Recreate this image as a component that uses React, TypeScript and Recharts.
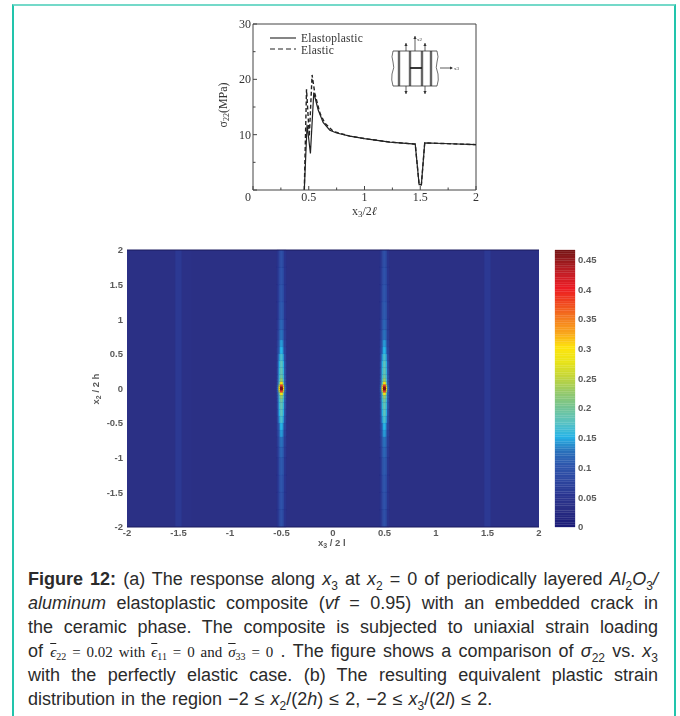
import {
  ComposedChart,
  LineChart,
  Line,
  Scatter,
  Legend,
  XAxis,
  YAxis,
  Label,
  ReferenceArea,
  ReferenceLine,
} from "recharts";

const SERIF = "'Liberation Serif', serif";
const SANS = "'Liberation Sans', Arial, sans-serif";

// Response curves
const plasticX = [0.46, 0.485, 0.515, 0.545, 0.584, 0.629, 0.689, 0.75, 0.868, 1.0, 1.227, 1.455, 1.49, 1.51, 1.54, 1.706, 2.0];
const plasticY = [0, 11.8, 6.6, 17.6, 14.5, 12.2, 10.8, 10.3, 9.74, 9.3, 8.66, 8.3, 0.96, 0.96, 8.5, 8.4, 8.2];
const elasticX = [0.46, 0.48, 0.505, 0.53, 0.554, 0.6, 0.644, 0.72, 0.868, 1.0, 1.227, 1.455, 1.49, 1.51, 1.54, 1.706, 2.0];
const elasticY = [0, 18.2, 9.7, 20.8, 17.5, 13.9, 12.1, 10.6, 9.74, 9.3, 8.66, 8.3, 0.96, 0.96, 8.5, 8.4, 8.2];

const lineXTicks = [0, 0.25, 0.5, 0.75, 1, 1.25, 1.5, 1.75, 2];
const lineYTicks = [0, 5, 10, 15, 20, 25, 30];

// Plastic strain map, panel (b). Rows are |x2/2h| upper edges, the map is mirrored about 0
const rowEdges = [0.03, 0.06, 0.1, 0.15, 0.2, 0.3, 0.4, 0.5, 0.6, 0.7, 0.85, 1, 1.25, 1.5, 1.75, 2];
const coreStrain = [0.46, 0.38, 0.29, 0.22, 0.19, 0.18, 0.175, 0.165, 0.15, 0.14, 0.125, 0.115, 0.105, 0.1, 0.095, 0.09];
const innerStrain = [0.3, 0.24, 0.18, 0.165, 0.16, 0.155, 0.15, 0.14, 0.125, 0.115, 0.105, 0.1, 0.09, 0.085, 0.08, 0.075];
const outerStrain = [0.12, 0.11, 0.1, 0.095, 0.09, 0.085, 0.08, 0.075, 0.07, 0.065, 0.06, 0.055, 0.05, 0.05, 0.048, 0.045];
const backgroundStrain = 0.03;
const faintStrain = 0.055;
const faintEdgeStrain = 0.034;

const crackColumns = [-0.5, 0.5];
const faintColumns = [-1.5, 1.5];
const hotSpots = [
  { x: -0.5, y: 0 },
  { x: 0.5, y: 0 },
];
const mapTicks = [-2, -1.5, -1, -0.5, 0, 0.5, 1, 1.5, 2];
const barTicks = [0, 0.05, 0.1, 0.15, 0.2, 0.25, 0.3, 0.35, 0.4, 0.45];
const barRange = [
  { x: 0, y: 0 },
  { x: 1, y: 0.466 },
];

const cmapValues = [0, 0.03, 0.05, 0.08, 0.1, 0.125, 0.15, 0.175, 0.2, 0.225, 0.25, 0.275, 0.3, 0.325, 0.35, 0.375, 0.4, 0.425, 0.45, 0.47];
const cmapColors = ["#1c1c78", "#2b3085", "#2b3590", "#2e4aa2", "#2f55ac", "#2a70bb", "#27b4e6", "#5cc3c0", "#75c493", "#96ca6a", "#c2d53c", "#e8e41a", "#fde40c", "#f9a61c", "#f47a20", "#f0481f", "#ed1c24", "#c41e26", "#8f1a1c", "#6b1010"];

const toRgb = (hex: string) => [1, 3, 5].map((i) => parseInt(hex.slice(i, i + 2), 16));

function strainColor(v: number) {
  let i = 0;
  while (i < cmapValues.length - 2 && v > cmapValues[i + 1]) i++;
  const t = Math.min(1, Math.max(0, (v - cmapValues[i]) / (cmapValues[i + 1] - cmapValues[i])));
  const a = toRgb(cmapColors[i]);
  const b = toRgb(cmapColors[i + 1]);
  return `rgb(${a.map((c, k) => Math.round(c + (b[k] - c) * t)).join(",")})`;
}

interface Cell {
  x1: number;
  x2: number;
  y1: number;
  y2: number;
  value: number;
}

function buildCells() {
  const cells: Cell[] = [];
  const addColumn = (x1: number, x2: number, values: number[]) => {
    rowEdges.forEach((edge, i) => {
      const low = i === 0 ? 0 : rowEdges[i - 1];
      cells.push({ x1, x2, y1: low, y2: edge, value: values[i] });
      cells.push({ x1, x2, y1: -edge, y2: -low, value: values[i] });
    });
  };
  crackColumns.forEach((c) => {
    addColumn(c - 0.045, c - 0.028, outerStrain);
    addColumn(c - 0.028, c - 0.014, innerStrain);
    addColumn(c - 0.014, c + 0.014, coreStrain);
    addColumn(c + 0.014, c + 0.028, innerStrain);
    addColumn(c + 0.028, c + 0.045, outerStrain);
  });
  return cells;
}

const mapCells = buildCells();
const barBands: number[] = [];
for (let v = 0; v < 0.466; v += 0.004) barBands.push(v);

const plasticData = plasticX.map((x, i) => ({ x, y: plasticY[i] }));
const elasticData = elasticX.map((x, i) => ({ x, y: elasticY[i] }));

const LineXTick = ({ x, y, payload }: any) => {
  const major = payload.value % 0.5 === 0;
  return (
    <g>
      <line x1={x} x2={x} y1={y} y2={y - (major ? 4 : 2.5)} stroke="#444" />
      {major && (
        <text x={payload.value === 0 ? x - 5 : x} y={y + 11} textAnchor="middle" fontSize={12} fontFamily={SERIF} fill="#333">
          {payload.value}
        </text>
      )}
    </g>
  );
};

const LineYTick = ({ x, y, payload }: any) => {
  const major = payload.value % 10 === 0;
  return (
    <g>
      <line x1={x} x2={x + (major ? 4 : 2.5)} y1={y} y2={y} stroke="#444" />
      {major && payload.value !== 0 && (
        <text x={x - 2} y={y + 4} textAnchor="end" fontSize={12} fontFamily={SERIF} fill="#333">
          {payload.value}
        </text>
      )}
    </g>
  );
};

const LineLegend = () => (
  <svg width={110} height={28} style={{ display: "block" }}>
    <line x1={0} x2={26} y1={5} y2={5} stroke="#222" strokeWidth={1.1} />
    <line x1={0} x2={26} y1={16} y2={16} stroke="#222" strokeWidth={1.1} strokeDasharray="5 3" />
    <text x={31} y={9} fontSize={11.5} letterSpacing={0.25} fontFamily={SERIF} fill="#333">Elastoplastic</text>
    <text x={31} y={20.5} fontSize={11.5} letterSpacing={0.25} fontFamily={SERIF} fill="#333">Elastic</text>
  </svg>
);

// Small schematic of the layered composite, drawn in page coordinates
const Inset = () => {
  const arrow = (x: number, y1: number, y2: number) => {
    const dir = y2 < y1 ? 1 : -1;
    return (
      <g key={`${x}-${y1}`}>
        <line x1={x} x2={x} y1={y1} y2={y2} stroke="#333" strokeWidth={0.8} />
        <path d={`M${x - 1.6} ${y2 + dir * 3}L${x} ${y2}L${x + 1.6} ${y2 + dir * 3}Z`} fill="#333" />
      </g>
    );
  };
  return (
    <svg width={680} height={240} style={{ position: "absolute", left: 0, top: 0, filter: "blur(0.3px)" }}>
      {[399, 410, 422, 431].map((x) => (
        <rect key={x} x={x - 1.2} y={51} width={2.4} height={35} fill="#666" />
      ))}
      <path d="M393 51H437M393 86H437" stroke="#333" strokeWidth={0.8} />
      <path d="M393 51q-2 6 0 11q2 5 -1 12q-1 6 1 12M437 51q2 6 0 11q-2 5 1 12q1 6 -1 12" fill="none" stroke="#333" strokeWidth={0.7} />
      <line x1={410} x2={422} y1={68} y2={68} stroke="#222" strokeWidth={1.8} />
      {arrow(406, 51, 43)}
      {arrow(415, 51, 36)}
      {arrow(425, 51, 43)}
      {arrow(406, 86, 94)}
      {arrow(425, 86, 94)}
      <line x1={440} x2={452} y1={68} y2={68} stroke="#333" strokeWidth={0.8} />
      <path d="M450 66.4L453 68L450 69.6Z" fill="#333" />
      <text x={417} y={41} fontSize={5} fontFamily={SERIF} fill="#333">x2</text>
      <text x={454} y={70} fontSize={5} fontFamily={SERIF} fill="#333">x3</text>
    </svg>
  );
};

const mapTickStyle = { fontSize: 9.5, fontFamily: SANS, fontWeight: 700, fill: "#5a5a5a" };

const Sub = ({ children }: { children: any }) => (
  <span style={{ fontSize: 12, verticalAlign: -5, lineHeight: 0 }}>{children}</span>
);
const Bar = ({ children }: { children: any }) => (
  <span style={{ textDecoration: "overline" }}>{children}</span>
);

const captionLine = (last?: boolean) => ({
  height: 24,
  lineHeight: "24px",
  textAlign: (last ? "left" : "justify") as any,
  textAlignLast: (last ? "left" : "justify") as any,
  wordSpacing: last ? 1 : 0,
  whiteSpace: "nowrap" as const,
});

const mathStyle = { fontFamily: SERIF, fontSize: 15, color: "#222" };
const mathSub = { fontSize: 10, verticalAlign: -3, lineHeight: 0 };

export default function App() {
  return (
    <div style={{ position: "absolute", left: 0, top: 0, width: 680, height: 716, background: "#fff", overflow: "hidden" }}>
      <div style={{ position: "absolute", left: 12, top: 4, width: 660, height: 730, borderLeft: "2px solid #22c4ac", borderRight: "2px solid #22c4ac", borderTop: "2px solid #74d9c9" }} />

      <div style={{ position: "absolute", left: 210, top: 10, filter: "blur(0.3px)" }}>
        <LineChart width={290} height={225} margin={{ top: 14, right: 24, left: 0, bottom: 0 }}>
          <XAxis
            dataKey="x"
            type="number"
            domain={[0, 2]}
            ticks={lineXTicks}
            interval={0}
            allowDuplicatedCategory={false}
            height={45}
            stroke="#444"
            tickLine={false}
            tickSize={0}
            tickMargin={0}
            tick={<LineXTick />}
          >
            <Label
              content={() => (
                <text x={142} y={205} fontSize={12} fontFamily={SERIF} fill="#333">
                  x<tspan fontSize={9} dy={2}>3</tspan>
                  <tspan dy={-2}>/2</tspan>
                  <tspan fontStyle="italic">ℓ</tspan>
                </text>
              )}
            />
          </XAxis>
          <YAxis
            type="number"
            domain={[0, 30]}
            ticks={lineYTicks}
            interval={0}
            width={43}
            stroke="#444"
            tickLine={false}
            tickSize={0}
            tickMargin={0}
            tick={<LineYTick />}
          >
            <Label
              content={() => (
                <text transform="rotate(-90 17 95)" x={17} y={95} textAnchor="middle" fontSize={12} fontFamily={SERIF} fill="#333">
                  σ<tspan fontSize={8} dy={2}>22</tspan>
                  <tspan dy={-2}>(MPa)</tspan>
                </text>
              )}
            />
          </YAxis>
          <ReferenceLine y={30} stroke="#444" />
          <ReferenceLine x={2} stroke="#444" />
          <Legend
            layout="horizontal"
            verticalAlign="middle"
            align="center"
            wrapperStyle={{ left: 60, top: 23, width: 110, height: 28 }}
            content={<LineLegend />}
          />
          <Line data={elasticData} dataKey="y" name="Elastic" type="linear" stroke="#222" strokeWidth={1.4} strokeDasharray="4 2.5" dot={false} isAnimationActive={false} />
          <Line data={plasticData} dataKey="y" name="Elastoplastic" type="linear" stroke="#222" strokeWidth={1.2} dot={false} isAnimationActive={false} />
        </LineChart>
      </div>
      <Inset />

      <div style={{ position: "absolute", left: 90, top: 235, filter: "blur(0.5px)" }}>
        <ComposedChart width={460} height={320} margin={{ top: 15, right: 11, left: 0, bottom: 0 }}>
          <XAxis type="number" dataKey="x" domain={[-2, 2]} ticks={mapTicks} interval={0} height={28} axisLine={false} tickLine={false} tickSize={0} tickMargin={2} tick={mapTickStyle}>
            <Label
              content={() => (
                <text x={228} y={311} fontSize={9.5} fontFamily={SANS} fontWeight={700} fill="#5a5a5a">
                  x<tspan fontSize={7} dy={2}>3</tspan>
                  <tspan dy={-2}> / 2 l</tspan>
                </text>
              )}
            />
          </XAxis>
          <YAxis type="number" dataKey="y" domain={[-2, 2]} ticks={mapTicks} interval={0} width={37} axisLine={false} tickLine={false} tickSize={0} tickMargin={4} tick={mapTickStyle}>
            <Label
              content={() => (
                <text transform="rotate(-90 9 154)" x={9} y={154} textAnchor="middle" fontSize={9.5} fontFamily={SANS} fontWeight={700} fill="#5a5a5a">
                  x<tspan fontSize={7} dy={2}>2</tspan>
                  <tspan dy={-2}> / 2 h</tspan>
                </text>
              )}
            />
          </YAxis>
          <ReferenceArea x1={-2} x2={2} y1={-2} y2={2} fill={strainColor(backgroundStrain)} fillOpacity={1} stroke="none" />
          {faintColumns.map((c) => (
            <ReferenceArea key={`edge${c}`} x1={c - 0.04} x2={c + 0.13} y1={-2} y2={2} fill={strainColor(faintEdgeStrain)} fillOpacity={1} stroke="none" />
          ))}
          {faintColumns.map((c) => (
            <ReferenceArea key={`faint${c}`} x1={c - 0.03} x2={c + 0.03} y1={-2} y2={2} fill={strainColor(faintStrain)} fillOpacity={1} stroke="none" />
          ))}
          {mapCells.map((cell, i) => (
            <ReferenceArea key={i} x1={cell.x1} x2={cell.x2} y1={cell.y1} y2={cell.y2} fill={strainColor(cell.value)} fillOpacity={1} stroke={strainColor(cell.value)} strokeWidth={0.2} />
          ))}
          <ReferenceLine y={2} stroke="#1b1b5e" />
          <ReferenceLine y={-2} stroke="#1b1b5e" />
          <Scatter
            data={hotSpots}
            dataKey="y"
            isAnimationActive={false}
            shape={(p: any) => <circle cx={p.cx} cy={p.cy} r={1.6} fill={strainColor(0.46)} />}
          />
        </ComposedChart>
      </div>

      <div style={{ position: "absolute", left: 545, top: 235, filter: "blur(0.5px)" }}>
        <ComposedChart width={70} height={320} margin={{ top: 15, right: 0, left: 10, bottom: 28 }}>
          <XAxis type="number" dataKey="x" domain={[0, 1]} hide />
          <YAxis
            type="number"
            dataKey="y"
            orientation="right"
            domain={[0, 0.466]}
            ticks={barTicks}
            interval={0}
            width={40}
            axisLine={false}
            tickLine={false}
            tickSize={0}
            tickMargin={3}
            tick={mapTickStyle}
          />
          {barBands.map((v) => (
            <ReferenceArea key={v} x1={0} x2={1} y1={v} y2={Math.min(v + 0.004, 0.466)} fill={strainColor(v)} fillOpacity={1} stroke={strainColor(v)} strokeWidth={0.3} />
          ))}
          <Scatter data={barRange} dataKey="y" isAnimationActive={false} shape={() => <g />} />
        </ComposedChart>
      </div>

      <div style={{ position: "absolute", left: 28, top: 567, width: 630, fontFamily: SANS, fontSize: 18, color: "#2b2b2b" }}>
        <div style={captionLine()}>
          <b>Figure 12:</b> (a) The response along <i>x</i><Sub>3</Sub> at <i>x</i><Sub>2</Sub> = 0 of periodically layered <i>Al</i><Sub>2</Sub><i>O</i><Sub>3</Sub><i>/</i>
        </div>
        <div style={captionLine()}>
          <i>aluminum</i> elastoplastic composite (<i>vf</i> = 0.95) with an embedded crack in
        </div>
        <div style={captionLine()}>
          the ceramic phase. The composite is subjected to uniaxial strain loading
        </div>
        <div style={captionLine()}>
          of{" "}
          <span style={mathStyle}>
            <Bar><i>ϵ</i></Bar><span style={mathSub}>22</span> = 0.02 with <Bar><i>ϵ</i></Bar><span style={mathSub}>11</span> = 0 and <Bar><i>σ</i></Bar><span style={mathSub}>33</span> = 0
          </span>{" "}
          . The figure shows a comparison of <i>σ</i><Sub>22</Sub> vs. <i>x</i><Sub>3</Sub>
        </div>
        <div style={captionLine()}>
          with the perfectly elastic case. (b) The resulting equivalent plastic strain
        </div>
        <div style={captionLine(true)}>
          distribution in the region −2 ≤ <i>x</i><Sub>2</Sub>/(2<i>h</i>) ≤ 2, −2 ≤ <i>x</i><Sub>3</Sub>/(2<i>l</i>) ≤ 2.
        </div>
      </div>
    </div>
  );
}
